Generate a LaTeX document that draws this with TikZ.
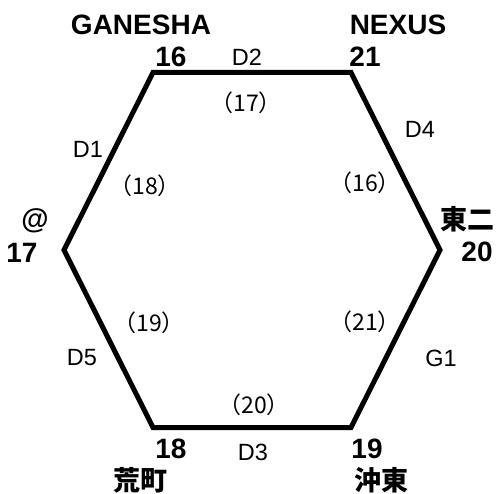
\documentclass[tikz,border=0pt]{standalone}
\usepackage{fontspec}
\setmainfont{Liberation Sans}
\newfontfamily\jp{Noto Sans CJK JP}
\usetikzlibrary{positioning}

\begin{document}
\begin{tikzpicture}
	[x=1pt,y=-1pt,line width=5pt,line join=miter,
	every node/.style={inner sep=0pt,outer sep=0pt},
	station/.style={font=\bfseries\fontsize{28}{28}\selectfont},
	kanji/.style={font=\jp\bfseries\fontsize{27}{27}\selectfont},
	line/.style={font=\fontsize{23.5}{23.5}\selectfont},
	inner/.style={font=\jp\fontsize{23}{23}\selectfont}]

	\useasboundingbox (0,0) rectangle (497,494);

	% corners of the hexagon
	\coordinate (n16) at (153,72.5);
	\coordinate (n21) at (351,72.5);
	\coordinate (n20) at (440,250);
	\coordinate (n19) at (351,427.5);
	\coordinate (n18) at (153,427.5);
	\coordinate (n17) at (64,250);

	\draw (n16) -- (n21) -- (n20) -- (n19) -- (n18) -- (n17) -- cycle;

	% station names and numbers
	\node[station] (ganesha) at (141,25) {GANESHA};
	\node[station] (s16) at (171,57) {16};
	\node[station] (nexus) at (398,25) {NEXUS};
	\node[station] (s21) at (365,57) {21};
	\node[kanji] (touni) at (467,219) {東二};
	\node[station] (s20) at (477,252) {20};
	\node[station] (at) at (35,221) {@};
	\node[station] (s17) at (22,253) {17};
	\node[station] (s18) at (171,449) {18};
	\node[kanji] (aramachi) at (140,480) {荒町};
	\node[station] (s19) at (367,449) {19};
	\node[kanji] (okitou) at (381,480) {沖東};

	% line names
	\node[line] (d2) at (247,57) {D2};
	\node[line] (d4) at (420,129) {D4};
	\node[line] (d1) at (88,149) {D1};
	\node[line] (d5) at (82,358) {D5};
	\node[line] (d3) at (253,452) {D3};
	\node[line] (g1) at (441,358) {G1};

	% numbers inside
	\node[inner] (i17) at (246,103) {（17）};
	\node[inner] (i16) at (365,183) {（16）};
	\node[inner] (i18) at (145,186) {（18）};
	\node[inner] (i19) at (149,323) {（19）};
	\node[inner] (i21) at (365,322) {（21）};
	\node[inner] (i20) at (254,405) {（20）};
\end{tikzpicture}
\end{document}
